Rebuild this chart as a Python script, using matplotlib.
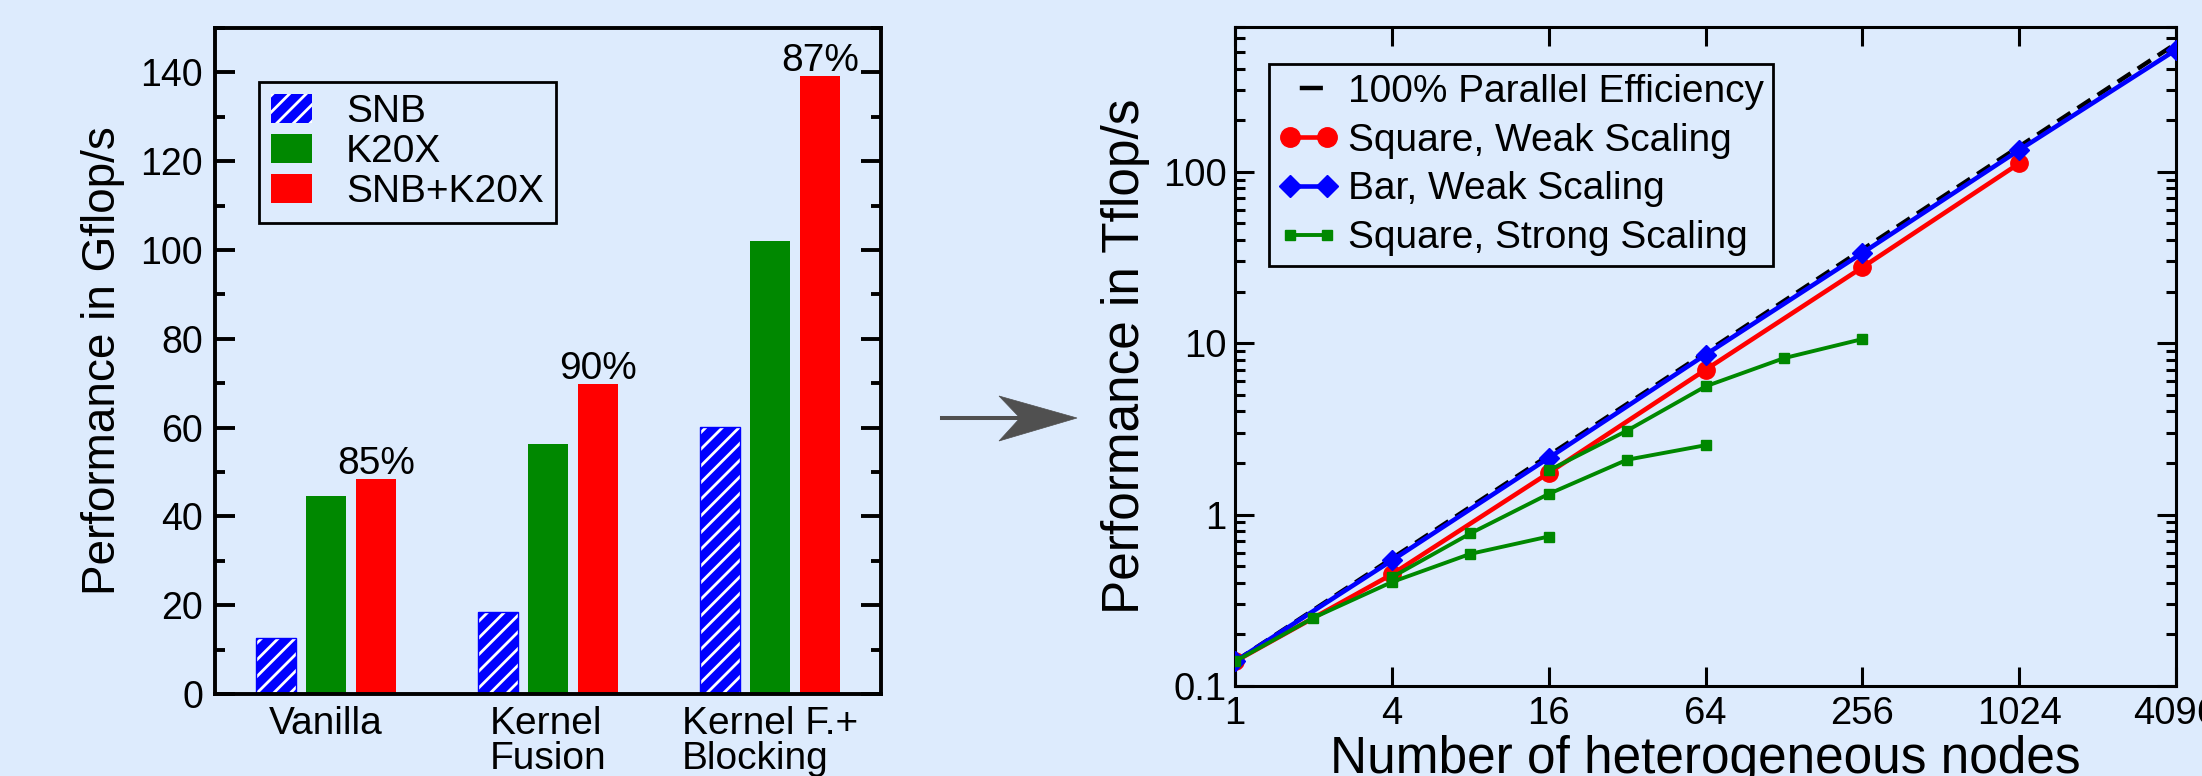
import numpy as np
import matplotlib.pyplot as plt
from matplotlib.lines import Line2D
from matplotlib.patches import Polygon
from matplotlib.ticker import MultipleLocator, LogLocator, NullLocator, NullFormatter

plt.rcParams['font.family'] = ['Liberation Sans', 'DejaVu Sans']
plt.rcParams['hatch.linewidth'] = 2.0

# --- single node performance (Gflop/s) ---
versions = ['Vanilla', 'Kernel\nFusion', 'Kernel F.+\nBlocking']
snb = [12.7, 18.5, 60.1]
k20x = [44.6, 56.3, 102.1]
snb_k20x = [48.4, 69.8, 139.2]
efficiency = ['85%', '90%', '87%']

# --- multi node scaling (Tflop/s) ---
ideal_nodes = [1, 4096]
ideal_tflops = [0.139, 560]
weak_nodes = [1, 4, 16, 64, 256, 1024]
square_weak = [0.139, 0.448, 1.75, 7.0, 27.7, 112]
bar_nodes = [1, 4, 16, 64, 256, 1024, 4096]
bar_weak = [0.139, 0.54, 2.14, 8.57, 33.6, 134, 515]
strong_nodes = [[1, 2, 4, 8, 16], [4, 8, 16, 32, 64], [16, 32, 64, 128, 256]]
strong_tflops = [[0.139, 0.25, 0.404, 0.59, 0.745],
                 [0.431, 0.776, 1.32, 2.09, 2.54],
                 [1.81, 3.09, 5.60, 8.18, 10.57]]
node_ticks = [1, 4, 16, 64, 256, 1024, 4096]

bg = '#ddebfd'
blue, green, red = '#0000ff', '#008800', '#ff0000'

W, H = 2202, 776
fig = plt.figure(figsize=(W / 100, H / 100), dpi=100, facecolor=bg)

# left panel
ax1 = fig.add_axes([215 / W, 1 - 694 / H, 666 / W, 666 / H], facecolor=bg)
x = np.arange(len(versions))
w, off = 0.18, 0.225
ax1.bar(x - off, snb, w, color=blue, edgecolor='white', hatch='//', linewidth=0, label='SNB')
ax1.bar(x - off, snb, w, fill=False, edgecolor=blue, linewidth=1)
ax1.bar(x, k20x, w, color=green, linewidth=0, label='K20X')
ax1.bar(x + off, snb_k20x, w, color=red, linewidth=0, label='SNB+K20X')
for xi, val, txt in zip(x, snb_k20x, efficiency):
    ax1.annotate(txt, xy=(xi + off, val), xytext=(0, 3.5), textcoords='offset points',
                 ha='center', va='baseline', fontsize=28)

ax1.set_xlim(-0.5, 2.5)
ax1.set_ylim(0, 150)
ax1.set_xticks(x)
ax1.set_xticklabels(versions, linespacing=0.95)
for lab in ax1.get_xticklabels():
    lab.set_multialignment('left')
ax1.set_yticks(np.arange(0, 141, 20))
ax1.yaxis.set_minor_locator(MultipleLocator(10))
ax1.tick_params(axis='y', which='both', direction='in', left=True, right=True,
                width=2.8, labelsize=27, pad=8.5)
ax1.tick_params(axis='y', which='major', length=14.5)
ax1.tick_params(axis='y', which='minor', length=7)
ax1.tick_params(axis='x', length=0, labelsize=28, pad=9)
for sp in ax1.spines.values():
    sp.set_linewidth(2.8)
ax1.set_ylabel('Performance in Gflop/s', fontsize=33, labelpad=11)
ax1.legend(loc='upper left', bbox_to_anchor=(44 / 666, 1 - 54 / 666), borderaxespad=0,
           fontsize=28, handlelength=1.05, handleheight=0.77, handletextpad=0.87,
           labelspacing=0.1, borderpad=0.32, fancybox=False, edgecolor='black',
           facecolor=bg, framealpha=1).get_frame().set_linewidth(2)

# right panel
ax2 = fig.add_axes([1235 / W, 1 - 686 / H, 941 / W, 659 / H], facecolor=bg)
ax2.set_xscale('log', base=2)
ax2.set_yscale('log')
ax2.plot(ideal_nodes, ideal_tflops, color='black', lw=3.2, dashes=(3.5, 1.9), zorder=2)
ax2.plot(weak_nodes, square_weak, color=red, lw=3.3, marker='o', ms=12.5, zorder=3)
ax2.plot(bar_nodes, bar_weak, color=blue, lw=3.3, marker='D', ms=10, zorder=4)
for n, t in zip(strong_nodes, strong_tflops):
    ax2.plot(n, t, color=green, lw=2.8, marker='s', ms=7, zorder=5)

ax2.set_xlim(1, 4096)
ax2.set_ylim(0.1, 700)
ax2.set_xticks(node_ticks)
ax2.set_xticklabels([str(n) for n in node_ticks])
ax2.xaxis.set_minor_locator(NullLocator())
ax2.set_yticks([0.1, 1, 10, 100])
ax2.set_yticklabels(['0.1', '1', '10', '100'])
ax2.yaxis.set_minor_locator(LogLocator(base=10, subs=np.arange(2, 10)))
ax2.yaxis.set_minor_formatter(NullFormatter())
ax2.tick_params(which='both', direction='in', top=True, right=True, width=2.2,
                labelsize=27.5)
ax2.tick_params(axis='y', which='both', pad=6)
ax2.tick_params(axis='x', which='both', pad=7)
ax2.tick_params(which='major', length=13.5)
ax2.tick_params(which='minor', length=7)
for sp in ax2.spines.values():
    sp.set_linewidth(2.2)
ax2.set_ylabel('Performance in Tflop/s', fontsize=37, labelpad=9)
ax2.set_xlabel('Number of heterogeneous nodes', fontsize=37, labelpad=2)

handles = [
    Line2D([], [], color='black', lw=3.2, linestyle=(31, (5.2, 28))),
    Line2D([], [], color=red, lw=3.3, marker='o', ms=14),
    Line2D([], [], color=blue, lw=3.3, marker='D', ms=11),
    Line2D([], [], color=green, lw=2.8, marker='s', ms=7),
]
labels = ['100% Parallel Efficiency', 'Square, Weak Scaling',
          'Bar, Weak Scaling', 'Square, Strong Scaling']
ax2.legend(handles, labels, loc='upper left', bbox_to_anchor=(34 / 941, 1 - 37 / 659),
           borderaxespad=0, fontsize=28, numpoints=2, handlelength=1.54,
           handletextpad=0.23, labelspacing=0.33, borderpad=0.25, fancybox=False,
           edgecolor='black', facecolor=bg, framealpha=1).get_frame().set_linewidth(2)

# arrow between the two panels
gray = '#505050'
fig.add_artist(Line2D([942 / W, 1020 / W], [1 - 418 / H, 1 - 418 / H], color=gray, lw=2.9))
head = [(1077, 418), (999, 396), (1020, 418), (999, 441)]
fig.add_artist(Polygon([(px / W, 1 - py / H) for px, py in head], closed=True,
                       transform=fig.transFigure, facecolor=gray, edgecolor=gray, lw=0.5))

fig.savefig('out.png', dpi=100, facecolor=bg)
